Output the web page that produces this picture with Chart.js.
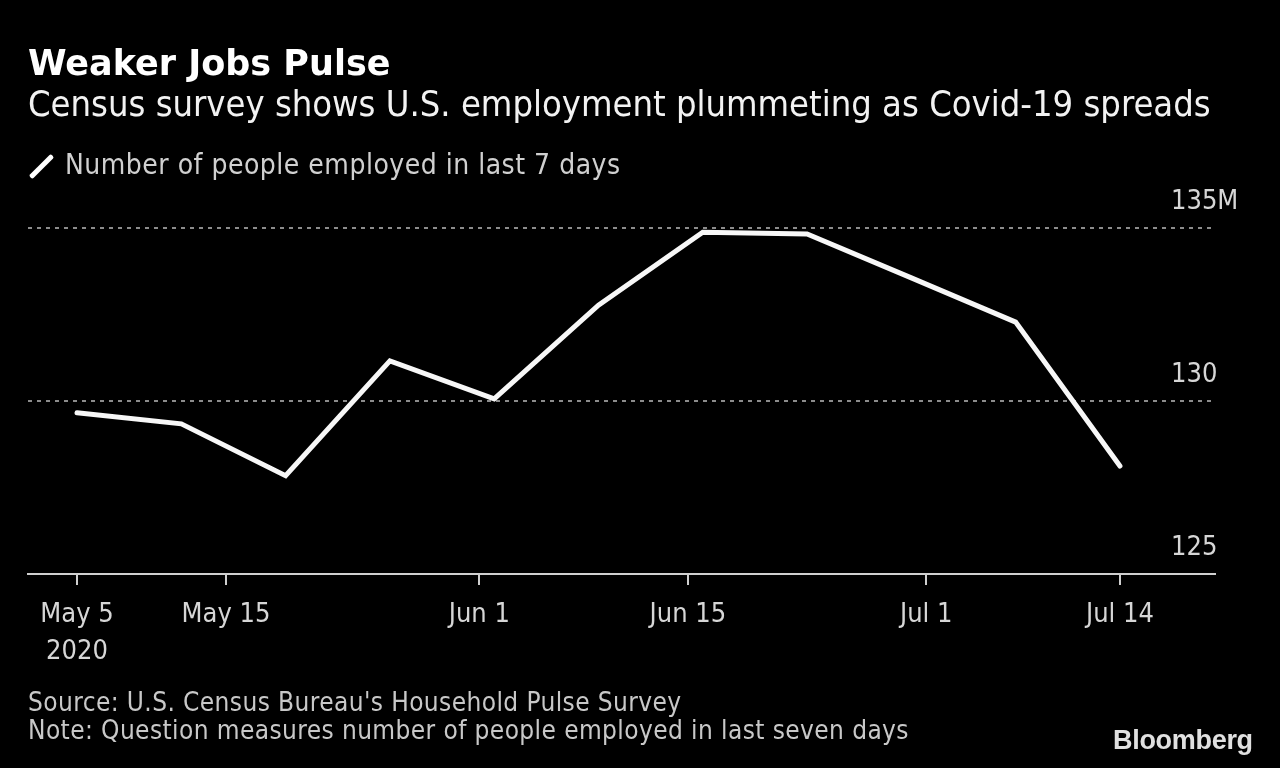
<!DOCTYPE html>
<html>
<head>
<meta charset="utf-8">
<script src="https://cdn.jsdelivr.net/npm/chart.js@4.4.1/dist/chart.umd.min.js"></script>
<style>
  html, body { margin: 0; padding: 0; background: #000; }
  body { width: 1280px; height: 768px; position: relative; overflow: hidden; font-family: "DejaVu Sans Condensed", "DejaVu Sans", sans-serif; }
  .txt { position: absolute; left: 28px; white-space: nowrap; }
  #title { top: 41px; font-family: "DejaVu Sans", sans-serif; font-size: 35px; font-weight: bold; color: #fff; line-height: 44px; }
  #subtitle { top: 84px; font-size: 36px; color: #f2f2f2; line-height: 40px; }
  #legend { top: 147px; left: 65px; font-size: 28px; color: #d0d0d0; line-height: 36px; letter-spacing: 0.5px; }
  #swatch { position: absolute; left: 39px; top: 151px; width: 5px; height: 31px; background: #fff; transform: rotate(45deg); border-radius: 2px; }
  #source { top: 688px; font-size: 26px; color: #c8c8c8; line-height: 28px; letter-spacing: 0.4px; }
  #brand { position: absolute; left: 1113px; top: 725px; font-family: "Liberation Sans", Arial, sans-serif; font-weight: bold; font-size: 27px; letter-spacing: -0.3px; color: #e0e0e0; }
  #wrap { position: absolute; left: 0; top: 0; width: 1280px; height: 768px; }
</style>
</head>
<body>
<div id="wrap"><canvas id="chart"></canvas></div>
<div class="txt" id="title">Weaker Jobs Pulse</div>
<div class="txt" id="subtitle">Census survey shows U.S. employment plummeting as Covid-19 spreads</div>
<div id="swatch"></div>
<div class="txt" id="legend">Number of people employed in last 7 days</div>
<div class="txt" id="source">Source: U.S. Census Bureau's Household Pulse Survey<br>Note: Question measures number of people employed in last seven days</div>
<div id="brand">Bloomberg</div>
<script>
// survey week end dates, 2020
const weekLabels = ['May 5', 'May 12', 'May 19', 'May 26', 'Jun 2', 'Jun 9', 'Jun 16', 'Jun 23', 'Jun 30', 'Jul 7', 'Jul 14'];
const weekDays = [0, 7, 14, 21, 28, 35, 42, 49, 56, 63, 70]; // days since May 5
const employed = [129.66, 129.34, 127.84, 131.16, 130.06, 132.77, 134.88, 134.83, 133.56, 132.28, 128.12]; // millions

const tickDays = [0, 10, 27, 41, 57, 70];
const tickLabels = [['May 5', '2020'], 'May 15', 'Jun 1', 'Jun 15', 'Jul 1', 'Jul 14'];
const yTicks = [125, 130, 135];
const yTickLabels = ['125', '130', '135M'];

const fontFamily = '"DejaVu Sans Condensed", "DejaVu Sans", sans-serif';
const tickFont = { family: fontFamily, size: 27, lineHeight: 1.35 };

// right-hand value labels sit above their gridlines, left aligned
const yLabels = {
  id: 'yLabels',
  afterDraw(chart) {
    const y = chart.scales.y;
    const ctx = chart.ctx;
    ctx.save();
    ctx.font = '27px ' + fontFamily;
    ctx.fillStyle = '#d6d6d6';
    ctx.textAlign = 'left';
    ctx.textBaseline = 'middle';
    y.ticks.forEach((t, i) => {
      ctx.fillText(yTickLabels[i], 1171, y.getPixelForValue(t.value) - 26);
    });
    ctx.restore();
  }
};

new Chart(document.getElementById('chart').getContext('2d'), {
  type: 'line',
  data: {
    datasets: [{
      label: 'Number of people employed in last 7 days',
      data: weekDays.map((d, i) => ({ x: d, y: employed[i] })),
      borderColor: '#f7f7f7',
      borderWidth: 5,
      pointRadius: 0,
      tension: 0,
      borderJoinStyle: 'miter',
      borderCapStyle: 'round',
      clip: false
    }]
  },
  options: {
    responsive: true,
    maintainAspectRatio: false,
    animation: false,
    layout: { padding: { left: 28, right: 65, top: 228, bottom: 0 } },
    plugins: { legend: { display: false }, tooltip: { enabled: false } },
    scales: {
      x: {
        type: 'linear',
        min: -3.29,
        max: 76.38,
        afterBuildTicks: scale => { scale.ticks = tickDays.map(v => ({ value: v })); },
        afterFit: scale => { scale.height = 194; },
        ticks: {
          color: '#d6d6d6',
          font: tickFont,
          padding: 12,
          maxRotation: 0,
          autoSkip: false,
          callback: (v, i) => tickLabels[i]
        },
        grid: { drawOnChartArea: false, drawTicks: true, tickLength: 11, color: '#cfcfcf', lineWidth: 2 },
        border: { display: true, color: '#cfcfcf', width: 2 }
      },
      y: {
        position: 'right',
        min: 125,
        max: 135,
        afterBuildTicks: scale => { scale.ticks = yTicks.map(v => ({ value: v })); },
        afterFit: scale => { scale.width = 0; },
        ticks: { display: false },
        grid: {
          drawTicks: false,
          color: ctx => ctx.tick && ctx.tick.value === 125 ? 'rgba(0,0,0,0)' : '#8c8c8c',
          lineWidth: 2
        },
        border: { display: false, dash: [4, 5] }
      }
    }
  },
  plugins: [yLabels]
});
</script>
</body>
</html>
